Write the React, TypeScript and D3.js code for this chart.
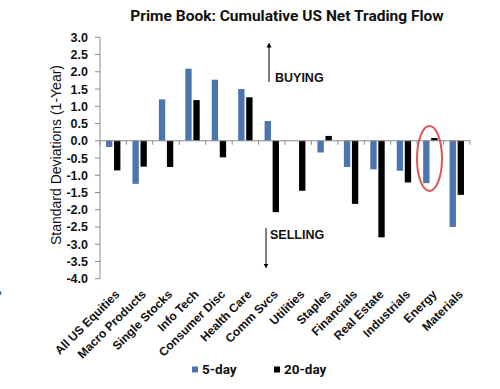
import React from "react";
import * as d3 from "d3";

const categories = [
  "All US Equities", "Macro Products", "Single Stocks", "Info Tech", "Consumer Disc",
  "Health Care", "Comm Svcs", "Utilities", "Staples", "Financials",
  "Real Estate", "Industrials", "Energy", "Materials",
];
const series = ["5-day", "20-day"];
const fiveDay = [-0.18, -1.25, 1.2, 2.09, 1.77, 1.5, 0.57, 0.0, -0.34, -0.76, -0.83, -0.87, -1.23, -2.5];
const twentyDay = [-0.86, -0.75, -0.76, 1.18, -0.48, 1.26, -2.07, -1.45, 0.14, -1.83, -2.8, -1.21, 0.08, -1.57];
const yTicks = [3.0, 2.5, 2.0, 1.5, 1.0, 0.5, 0.0, -0.5, -1.0, -1.5, -2.0, -2.5, -3.0, -3.5, -4.0];
const colors = ["#4a75ae", "#000000"];

const W = 500, H = 389;
const left = 100, right = 470, top = 37.3, bottom = 278.7;

export default function App() {
  const y = d3.scaleLinear().domain([-4, 3]).range([bottom, top]);
  const x0 = d3.scaleBand<string>().domain(categories).range([left, right]).padding(0);
  const x1 = d3.scaleBand<string>().domain(series).range([0, x0.bandwidth()]).paddingInner(0.21).paddingOuter(0.75);
  const values = [fiveDay, twentyDay];
  const y0 = y(0);
  const axisColor = "#8a8a8a";
  const labelFont = "'Liberation Sans', Arial, sans-serif";
  const boundaries = categories.map((c) => x0(c)!).concat([right]);

  return (
    <svg width={W} height={H} style={{ position: "absolute", left: 0, top: 0, background: "#fff" }}>
      <defs>
        <marker id="ah" viewBox="0 0 10 10" refX="5" refY="5" markerWidth="5" markerHeight="6" orient="auto-start-reverse">
          <path d="M0,0 L10,5 L0,10 z" fill="#000" />
        </marker>
      </defs>
      <text x={287} y={21} textAnchor="middle" fontFamily="Roboto, sans-serif" fontWeight="bold" fontSize={15.5} fill="#111">
        Prime Book: Cumulative US Net Trading Flow
      </text>

      {/* y axis */}
      <line x1={left} x2={left} y1={top} y2={bottom} stroke={axisColor} strokeWidth={1} />
      {yTicks.map((t) => (
        <g key={t}>
          <line x1={left - 5} x2={left} y1={y(t)} y2={y(t)} stroke={axisColor} />
          <text x={88} y={y(t)} dy="0.36em" textAnchor="end" fontFamily={labelFont} fontWeight="bold" fontSize={12.5} fill="#111">
            {t.toFixed(1)}
          </text>
        </g>
      ))}
      <text transform={`translate(61,${(top + bottom) / 2 - 3}) rotate(-90)`} textAnchor="middle" fontFamily={labelFont} fontSize={14} fill="#111">
        Standard Deviations (1-Year)
      </text>

      {/* bars */}
      {categories.map((c, i) => (
        <g key={c} transform={`translate(${x0(c)},0)`}>
          {series.map((s, j) => {
            const v = values[j][i];
            return (
              <rect key={s} x={x1(s)} width={x1.bandwidth()} y={Math.min(y(v), y0)} height={Math.abs(y(v) - y0)} fill={colors[j]} />
            );
          })}
        </g>
      ))}

      {/* zero line */}
      <line x1={left} x2={right} y1={y0} y2={y0} stroke={axisColor} strokeWidth={1} />
      {boundaries.map((b, i) => (
        <line key={i} x1={b} x2={b} y1={y0} y2={y0 + 4} stroke={axisColor} />
      ))}

      {/* category labels */}
      {categories.map((c) => {
        const cx = x0(c)! + x0.bandwidth() / 2 + 7;
        return (
          <text key={c} transform={`translate(${cx},${295}) rotate(-45)`} textAnchor="end" fontFamily={labelFont} fontWeight="bold" fontSize={12} fill="#111">
            {c}
          </text>
        );
      })}

      {/* annotations */}
      <line x1={269} x2={269} y1={82} y2={45} stroke="#000" strokeWidth={1} markerEnd="url(#ah)" />
      <text x={275} y={82} fontFamily={labelFont} fontWeight="bold" fontSize={12.5} fill="#111">BUYING</text>
      <line x1={266} x2={266} y1={228} y2={266} stroke="#000" strokeWidth={1} markerEnd="url(#ah)" />
      <text x={270} y={238.5} fontFamily={labelFont} fontWeight="bold" fontSize={12.5} fill="#111">SELLING</text>
      <ellipse cx={429.5} cy={158.5} rx={12.5} ry={32.5} fill="none" stroke="#e05555" strokeWidth={2} />

      {/* legend */}
      {series.map((s, j) => {
        const lx = j === 0 ? 192 : 274;
        return (
          <g key={s}>
            <rect x={lx} y={366.5} width={6} height={6} fill={colors[j]} />
            <text x={lx + 10} y={374} fontFamily="Roboto, sans-serif" fontWeight="bold" fontSize={13.5} fill="#111">{s}</text>
          </g>
        );
      })}
      <circle cx={-1} cy={293} r={2.5} fill="#4a75ae" />
    </svg>
  );
}
